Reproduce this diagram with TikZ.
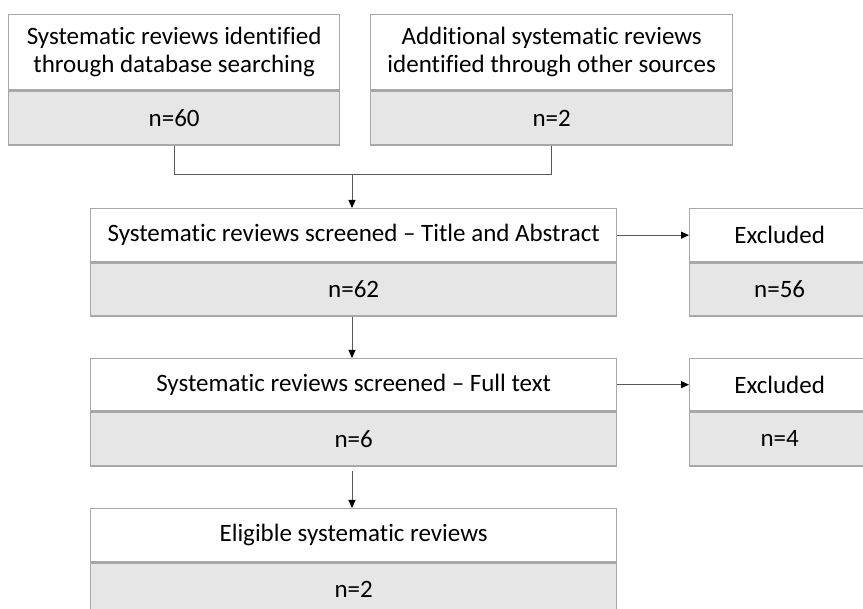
\documentclass[tikz,border=0pt]{standalone}
\usepackage{fontspec}
\setmainfont{Carlito}[Ligatures=NoCommon]
\usetikzlibrary{arrows.meta}
\definecolor{boxline}{HTML}{A8A8A8}
\definecolor{boxfill}{HTML}{E6E6E6}
\definecolor{connc}{HTML}{595959}
\begin{document}
\begin{tikzpicture}[x=1pt,y=-1pt,
  txt/.style={font=\fontsize{25}{28}\selectfont, align=center, inner sep=0pt},
  toppart/.style={txt, draw=boxline, line width=1.3pt, fill=white, anchor=north west},
  botpart/.style={txt, draw=boxline, line width=1.3pt, fill=boxfill, anchor=north},
  conn/.style={draw=connc, line width=0.9pt},
  arr/.style={conn, -{Triangle[length=8pt,width=7pt,fill=black,color=black]}}]
\useasboundingbox (0,0) rectangle (863,609);

% Box 1
\node[toppart, minimum width=331pt, minimum height=75pt] (a1) at (8,14)
  {Systematic reviews identified\\through database searching};
\node[botpart, minimum width=331pt, minimum height=54pt] (a2) at (a1.south) {n=60};
% Box 2
\node[toppart, minimum width=362pt, minimum height=75pt] (b1) at (370,14)
  {Additional systematic reviews\\identified through other sources};
\node[botpart, minimum width=362pt, minimum height=54pt] (b2) at (b1.south) {n=2};
% Box 3
\node[toppart, minimum width=526pt, minimum height=53pt] (c1) at (90,208)
  {Systematic reviews screened -- Title and Abstract};
\node[botpart, minimum width=526pt, minimum height=53pt] (c2) at (c1.south) {n=62};
% Excluded 1
\node[toppart, minimum width=180pt, minimum height=53pt] (e1) at (689,208) {Excluded};
\node[botpart, minimum width=180pt, minimum height=53pt] (e2) at (e1.south) {n=56};
% Box 4
\node[toppart, minimum width=526pt, minimum height=52pt] (d1) at (90,358)
  {Systematic reviews screened -- Full text};
\node[botpart, minimum width=526pt, minimum height=54pt] (d2) at (d1.south) {n=6};
% Excluded 2
\node[toppart, minimum width=180pt, minimum height=52pt] (f1) at (689,358) {Excluded};
\node[botpart, minimum width=180pt, minimum height=54pt] (f2) at (f1.south) {n=4};
% Box 5
\node[toppart, minimum width=526pt, minimum height=53pt] (g1) at (90,508)
  {Eligible systematic reviews};
\node[botpart, minimum width=526pt, minimum height=53pt] (g2) at (g1.south) {n=2};

% Connectors
\coordinate (j) at (352,174);
\draw[conn] (a2.south) |- (j);
\draw[conn] (b2.south) |- (j);
\draw[arr] (j) -- (j |- c1.north);
\draw[arr] (c1.east) -- (e1.west);
\draw[arr] (c2.south -| j) -- (j |- d1.north);
\draw[arr] (d1.east) -- (f1.west);
\draw[arr, shorten <=4pt] (d2.south -| j) -- (j |- g1.north);
\end{tikzpicture}
\end{document}
